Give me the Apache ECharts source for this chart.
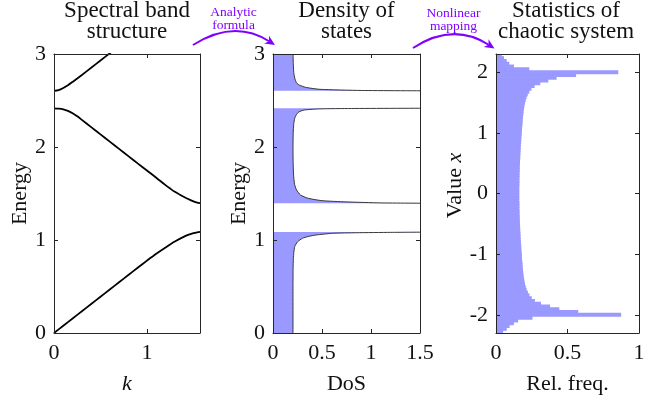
<!DOCTYPE html>
<html><head><meta charset="utf-8">
<script src="https://cdn.jsdelivr.net/npm/echarts@6/dist/echarts.min.js"></script>
<style>html,body{margin:0;padding:0;background:#fff}#c{width:665px;height:402px}</style>
</head><body><div id="c"></div>
<script>
const FONT = 'Liberation Serif';
const FILL = '#9999ff';
const PURPLE = '#7f00ff';
const AXC = '#262626';

// ---- Panel 1: spectral band structure, points [k, E] ----
const band1 = [[0,0],[0.1,0.078],[0.2,0.156],[0.3,0.234],[0.4,0.312],[0.5,0.39],[0.6,0.468],[0.7,0.546],[0.8,0.624],[0.9,0.702],[1.0,0.778],[1.1,0.852],[1.2,0.92],[1.3,0.984],[1.4,1.036],[1.45,1.057],[1.5,1.074],[1.54,1.083],[1.5708,1.087]];
const band2 = [[0,2.416],[0.05,2.413],[0.1,2.405],[0.15,2.388],[0.2,2.362],[0.25,2.33],[0.3,2.292],[0.4,2.214],[0.5,2.136],[0.6,2.058],[0.7,1.98],[0.8,1.902],[0.9,1.824],[1.0,1.747],[1.1,1.67],[1.2,1.59],[1.25,1.553],[1.3,1.518],[1.35,1.49],[1.4,1.463],[1.45,1.438],[1.5,1.415],[1.54,1.401],[1.5708,1.397]];
const band3 = [[0,2.604],[0.05,2.612],[0.1,2.635],[0.15,2.665],[0.2,2.7],[0.25,2.737],[0.3,2.775],[0.4,2.852],[0.5,2.93],[0.6,3.008],[0.7,3.086]];

// ---- Panel 2: density of states, points [DoS, E] ----
const dos1 = [[0.204,0],[0.204,0.5],[0.205,0.7],[0.208,0.8],[0.213,0.87],[0.222,0.93],[0.25,0.98],[0.3,1.018],[0.36,1.038],[0.44,1.054],[0.61,1.072],[0.85,1.078],[1.2,1.082],[1.6,1.085]];
const dos2 = [[1.6,1.395],[1.1,1.399],[0.74,1.41],[0.5,1.423],[0.36,1.448],[0.28,1.484],[0.24,1.538],[0.22,1.6],[0.21,1.7],[0.205,1.85],[0.204,2.0],[0.206,2.15],[0.212,2.25],[0.222,2.31],[0.24,2.35],[0.265,2.378],[0.32,2.398],[0.48,2.41],[0.8,2.414],[1.6,2.417]];
const dos3 = [[1.6,2.604],[0.9,2.608],[0.48,2.62],[0.34,2.64],[0.27,2.665],[0.24,2.69],[0.222,2.74],[0.212,2.8],[0.207,2.9],[0.205,3.0]];

// ---- Panel 3: histogram of chaotic values ----
const histMin = -2.3;
const histBinWidth = 0.046;
const histFreq = [0.05,0.075,0.095,0.125,0.155,0.255,0.875,0.575,0.443,0.378,
0.315,0.272,0.25,0.234,0.223,0.214,0.208,0.203,0.199,0.196,
0.193,0.191,0.189,0.187,0.186,0.184,0.182,0.181,0.18,0.178,
0.177,0.176,0.174,0.173,0.172,0.171,0.17,0.169,0.168,0.167,
0.166,0.166,0.165,0.165,0.164,0.164,0.164,0.163,0.163,0.163,
0.163,0.163,0.163,0.164,0.164,0.164,0.165,0.165,0.166,0.166,
0.167,0.168,0.169,0.17,0.171,0.172,0.173,0.174,0.176,0.177,
0.178,0.18,0.181,0.182,0.184,0.186,0.187,0.189,0.191,0.193,
0.196,0.199,0.203,0.208,0.214,0.222,0.233,0.248,0.27,0.31,
0.366,0.424,0.56,0.855,0.233,0.126,0.093,0.075,0.056,0.04];

// ---- ticks ----
const xTicks1 = [0, 1], yTicks1 = [0, 1, 2, 3];
const xTicks2 = [0, 0.5, 1, 1.5], yTicks2 = [0, 1, 2, 3];
const xTicks3 = [0, 0.5, 1], yTicks3 = [-2, -1, 0, 1, 2];

const titles = ['Spectral band\nstructure', 'Density of\nstates', 'Statistics of\nchaotic system'];
const arrowTexts = ['Analytic\nformula', 'Nonlinear\nmapping'];

const chart = echarts.init(document.getElementById('c'));

const grids = [
  {left: 54, top: 54, width: 146, height: 279},
  {left: 273, top: 54, width: 147, height: 279},
  {left: 496, top: 54, width: 143, height: 279}
];

const labelStyle = {fontFamily: FONT, fontSize: 22, color: '#111'};
const nameStyle = {fontFamily: FONT, fontSize: 22, color: '#111'};

function xAxes(g, min, max, ticks, name, nameOpts) {
  const base = {
    type: 'value', gridIndex: g, min: min, max: max, z: 5,
    axisLine: {show: true, onZero: false, lineStyle: {color: AXC, width: 1}},
    axisTick: {show: true, inside: true, length: 4, customValues: ticks, lineStyle: {color: AXC}},
    splitLine: {show: false}
  };
  return [
    Object.assign({}, base, {position: 'bottom', name: name, nameLocation: 'middle', nameGap: 40,
      nameTextStyle: Object.assign({}, nameStyle, nameOpts || {}),
      axisLabel: Object.assign({customValues: ticks, margin: 9}, labelStyle)}),
    Object.assign({}, base, {position: 'top', axisLabel: {show: false}})
  ];
}
function yAxes(g, min, max, ticks, name, nameOpts, gap) {
  const base = {
    type: 'value', gridIndex: g, min: min, max: max, z: 5,
    axisLine: {show: true, onZero: false, lineStyle: {color: AXC, width: 1}},
    axisTick: {show: true, inside: true, length: 4, customValues: ticks, lineStyle: {color: AXC}},
    splitLine: {show: false}
  };
  return [
    Object.assign({}, base, {position: 'left', name: name, nameLocation: 'middle', nameGap: gap,
      nameTextStyle: Object.assign({}, nameStyle, nameOpts || {}),
      axisLabel: Object.assign({customValues: ticks, margin: 8}, labelStyle)}),
    Object.assign({}, base, {position: 'right', axisLabel: {show: false}})
  ];
}

const richName = {
  a: {fontFamily: FONT, fontSize: 22, color: '#111'},
  b: {fontFamily: FONT, fontSize: 22, fontStyle: 'italic', color: '#111'},
  s: {width: 16}
};
const xAxis = [].concat(
  xAxes(0, 0, 1.5708, xTicks1, 'k', {fontStyle: 'italic'}),
  xAxes(1, 0, 1.5, xTicks2, 'DoS'),
  xAxes(2, 0, 1, xTicks3, 'Rel. freq.')
);
const yAxis = [].concat(
  yAxes(0, 0, 3, yTicks1, 'Energy', null, 21),
  yAxes(1, 0, 3, yTicks2, 'Energy', null, 21),
  yAxes(2, -2.3, 2.3, yTicks3, '{s|}{a|Value }{b|x}', {rich: richName}, 20)
);

function bandLine(data) {
  return {type: 'line', xAxisIndex: 0, yAxisIndex: 0, data: data, showSymbol: false, smooth: 0.3,
    lineStyle: {color: '#000', width: 1.8}, clip: true, silent: true, z: 3};
}
function dosFill(points) {
  return {
    type: 'custom', xAxisIndex: 2, yAxisIndex: 2, clip: true, silent: true, z: 2,
    data: [points[0]],
    renderItem: function (params, api) {
      const pts = [api.coord([0, points[0][1]])]
        .concat(points.map(p => api.coord(p)))
        .concat([api.coord([0, points[points.length - 1][1]])]);
      return {type: 'polygon', shape: {points: pts}, style: {fill: FILL, stroke: null}};
    }
  };
}
function dosLine(data) {
  return {type: 'line', xAxisIndex: 2, yAxisIndex: 2, data: data, showSymbol: false, smooth: 0.2,
    lineStyle: {color: '#3a3a3a', width: 1}, clip: true, silent: true, z: 3};
}

const series = [
  bandLine(band1), bandLine(band2), bandLine(band3),
  dosFill(dos1), dosFill(dos2), dosFill(dos3),
  dosLine(dos1), dosLine(dos2), dosLine(dos3),
  {
    type: 'custom', xAxisIndex: 4, yAxisIndex: 4, clip: true, silent: true, z: 2,
    data: histFreq.map((f, i) => [f, i]),
    renderItem: function (params, api) {
      const f = api.value(0), i = api.value(1);
      const lo = histMin + i * histBinWidth, hi = lo + histBinWidth;
      const p0 = api.coord([0, hi]);
      const p1 = api.coord([f, lo]);
      return {type: 'rect', shape: {x: p0[0], y: p0[1] - 0.6, width: p1[0] - p0[0], height: p1[1] - p0[1] + 1.2},
        style: {fill: FILL}};
    }
  }
];

// decorative titles & arrows
const centers = [127, 346.5, 566];
const graphic = titles.map((t, i) => ({
  type: 'text', x: centers[i], y: 21, z: 10,
  style: {text: t, font: '23px "Liberation Serif"', textAlign: 'center', textVerticalAlign: 'middle', lineHeight: 21, fill: '#111'}
}));
function arrow(x0, y0, cx, cy, x1, y1) {
  const dx = x1 - cx, dy = y1 - cy, L = Math.hypot(dx, dy);
  const ux = dx / L, uy = dy / L, nx = -uy, ny = ux;
  const len = 10, hw = 4.5;
  const bx = x1 - len * ux, by = y1 - len * uy;
  const mx = x1 - 7 * ux, my = y1 - 7 * uy;
  return [
    {type: 'bezierCurve', z: 10, shape: {x1: x0, y1: y0, cpx1: cx, cpy1: cy, x2: mx, y2: my},
      style: {stroke: PURPLE, lineWidth: 2, fill: null}},
    {type: 'polygon', z: 10, shape: {points: [[x1, y1], [bx + hw * nx, by + hw * ny], [mx, my], [bx - hw * nx, by - hw * ny]]},
      style: {fill: PURPLE}}
  ];
}
graphic.push(...arrow(193, 45, 234, 19, 275, 45));
graphic.push(...arrow(413, 48, 453, 22, 494.5, 48.5));
graphic.push({type: 'text', x: 233.5, y: 19, z: 10,
  style: {text: arrowTexts[0], font: '13.5px "Liberation Serif"', textAlign: 'center', textVerticalAlign: 'middle', lineHeight: 13, fill: PURPLE}});
graphic.push({type: 'text', x: 453.5, y: 19.5, z: 10,
  style: {text: arrowTexts[1], font: '13.5px "Liberation Serif"', textAlign: 'center', textVerticalAlign: 'middle', lineHeight: 13, fill: PURPLE}});

chart.setOption({
  animation: false,
  backgroundColor: '#fff',
  grid: grids,
  xAxis: xAxis,
  yAxis: yAxis,
  series: series,
  graphic: graphic
});
</script></body></html>
